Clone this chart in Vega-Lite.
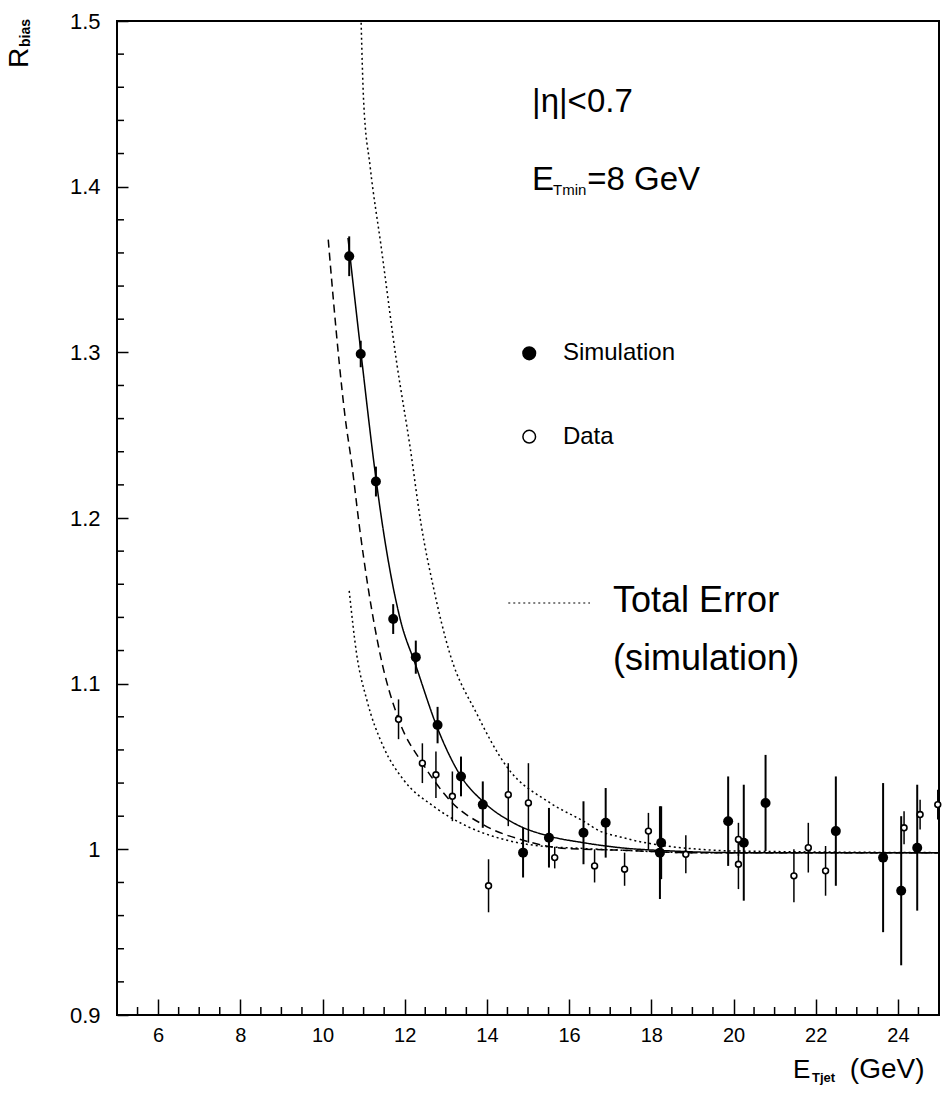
{
  "$schema": "https://vega.github.io/schema/vega-lite/v6.json",
  "width": 822,
  "height": 994,
  "autosize": {"type": "none"},
  "padding": {"left": 117, "top": 21, "right": 4, "bottom": 88},
  "background": "white",
  "config": {
    "view": {"stroke": "black", "strokeWidth": 2},
    "axis": {"domain": false, "grid": false, "tickColor": "black", "tickWidth": 1.5, "labelColor": "black", "title": null}
  },
  "datasets": {
    "sim": [
      {"x": 10.65, "y": 1.358, "e": 0.012},
      {"x": 10.93, "y": 1.299, "e": 0.008},
      {"x": 11.30, "y": 1.222, "e": 0.009},
      {"x": 11.72, "y": 1.139, "e": 0.009},
      {"x": 12.27, "y": 1.116, "e": 0.010},
      {"x": 12.80, "y": 1.075, "e": 0.011},
      {"x": 13.37, "y": 1.044, "e": 0.012},
      {"x": 13.90, "y": 1.027, "e": 0.014},
      {"x": 14.88, "y": 0.998, "e": 0.015},
      {"x": 15.51, "y": 1.007, "e": 0.018},
      {"x": 16.35, "y": 1.010, "e": 0.019},
      {"x": 16.89, "y": 1.016, "e": 0.021},
      {"x": 18.21, "y": 0.998, "e": 0.028},
      {"x": 18.24, "y": 1.004, "e": 0.022},
      {"x": 19.87, "y": 1.017, "e": 0.027},
      {"x": 20.25, "y": 1.004, "e": 0.035},
      {"x": 20.78, "y": 1.028, "e": 0.029},
      {"x": 22.49, "y": 1.011, "e": 0.033},
      {"x": 23.64, "y": 0.995, "e": 0.045},
      {"x": 24.08, "y": 0.975, "e": 0.045},
      {"x": 24.47, "y": 1.001, "e": 0.038}
    ],
    "dat": [
      {"x": 11.85, "y": 1.0785, "e": 0.012},
      {"x": 12.43, "y": 1.052, "e": 0.012},
      {"x": 12.76, "y": 1.045, "e": 0.014},
      {"x": 13.16, "y": 1.032, "e": 0.015},
      {"x": 14.04, "y": 0.978, "e": 0.016},
      {"x": 14.52, "y": 1.033, "e": 0.019},
      {"x": 15.01, "y": 1.028, "e": 0.024},
      {"x": 15.65, "y": 0.995, "e": 0.0065},
      {"x": 16.62, "y": 0.990, "e": 0.010},
      {"x": 17.35, "y": 0.988, "e": 0.010},
      {"x": 17.93, "y": 1.011, "e": 0.011},
      {"x": 18.84, "y": 0.997, "e": 0.0115},
      {"x": 20.12, "y": 1.006, "e": 0.010},
      {"x": 20.12, "y": 0.991, "e": 0.015},
      {"x": 21.47, "y": 0.984, "e": 0.016},
      {"x": 21.82, "y": 1.001, "e": 0.015},
      {"x": 22.24, "y": 0.987, "e": 0.015},
      {"x": 24.15, "y": 1.013, "e": 0.010},
      {"x": 24.54, "y": 1.021, "e": 0.009},
      {"x": 24.97, "y": 1.027, "e": 0.009}
    ],
    "curves": [
      {"c": "sim", "x": 10.62, "y": 1.369},
      {"c": "sim", "x": 10.93, "y": 1.301},
      {"c": "sim", "x": 11.30, "y": 1.224},
      {"c": "sim", "x": 11.44, "y": 1.199},
      {"c": "sim", "x": 11.89, "y": 1.139},
      {"c": "sim", "x": 12.27, "y": 1.111},
      {"c": "sim", "x": 12.80, "y": 1.073},
      {"c": "sim", "x": 13.37, "y": 1.044},
      {"c": "sim", "x": 13.90, "y": 1.029},
      {"c": "sim", "x": 14.72, "y": 1.015},
      {"c": "sim", "x": 15.51, "y": 1.008},
      {"c": "sim", "x": 16.35, "y": 1.004},
      {"c": "sim", "x": 17.24, "y": 1.001},
      {"c": "sim", "x": 18.5, "y": 0.999},
      {"c": "sim", "x": 20.0, "y": 0.998},
      {"c": "sim", "x": 25.0, "y": 0.998},
      {"c": "dat", "x": 10.14, "y": 1.368},
      {"c": "dat", "x": 10.26, "y": 1.333},
      {"c": "dat", "x": 10.41, "y": 1.293},
      {"c": "dat", "x": 10.55, "y": 1.261},
      {"c": "dat", "x": 10.71, "y": 1.233},
      {"c": "dat", "x": 10.90, "y": 1.1945},
      {"c": "dat", "x": 11.11, "y": 1.158},
      {"c": "dat", "x": 11.40, "y": 1.118},
      {"c": "dat", "x": 11.85, "y": 1.0785},
      {"c": "dat", "x": 12.43, "y": 1.052},
      {"c": "dat", "x": 12.76, "y": 1.040},
      {"c": "dat", "x": 13.16, "y": 1.028},
      {"c": "dat", "x": 13.90, "y": 1.015},
      {"c": "dat", "x": 14.88, "y": 1.0055},
      {"c": "dat", "x": 15.94, "y": 1.0005},
      {"c": "dat", "x": 17.24, "y": 0.9995},
      {"c": "dat", "x": 19.0, "y": 0.998},
      {"c": "dat", "x": 25.0, "y": 0.998},
      {"c": "hi", "x": 10.94, "y": 1.499},
      {"c": "hi", "x": 11.0, "y": 1.452},
      {"c": "hi", "x": 11.16, "y": 1.412},
      {"c": "hi", "x": 11.42, "y": 1.365},
      {"c": "hi", "x": 11.81, "y": 1.293},
      {"c": "hi", "x": 12.13, "y": 1.243},
      {"c": "hi", "x": 12.40, "y": 1.196},
      {"c": "hi", "x": 12.70, "y": 1.158},
      {"c": "hi", "x": 13.10, "y": 1.118},
      {"c": "hi", "x": 13.75, "y": 1.082},
      {"c": "hi", "x": 14.48, "y": 1.050},
      {"c": "hi", "x": 15.54, "y": 1.028},
      {"c": "hi", "x": 16.35, "y": 1.017},
      {"c": "hi", "x": 16.75, "y": 1.011},
      {"c": "hi", "x": 17.24, "y": 1.0075},
      {"c": "hi", "x": 17.56, "y": 1.0055},
      {"c": "hi", "x": 18.37, "y": 1.002},
      {"c": "hi", "x": 19.18, "y": 1.000},
      {"c": "hi", "x": 20.0, "y": 0.999},
      {"c": "hi", "x": 25.0, "y": 0.998},
      {"c": "lo", "x": 10.65, "y": 1.156},
      {"c": "lo", "x": 10.83, "y": 1.118},
      {"c": "lo", "x": 11.08, "y": 1.090},
      {"c": "lo", "x": 11.48, "y": 1.062},
      {"c": "lo", "x": 11.97, "y": 1.042},
      {"c": "lo", "x": 12.70, "y": 1.026},
      {"c": "lo", "x": 13.51, "y": 1.014},
      {"c": "lo", "x": 14.32, "y": 1.0066},
      {"c": "lo", "x": 15.13, "y": 1.0025},
      {"c": "lo", "x": 16.35, "y": 1.0005},
      {"c": "lo", "x": 17.24, "y": 0.9995},
      {"c": "lo", "x": 19.0, "y": 0.998},
      {"c": "lo", "x": 25.0, "y": 0.998}
    ],
    "xminor": [
      {"v": 5.5}, {"v": 6.5}, {"v": 7}, {"v": 7.5}, {"v": 8.5}, {"v": 9}, {"v": 9.5}, {"v": 10.5}, {"v": 11}, {"v": 11.5},
      {"v": 12.5}, {"v": 13}, {"v": 13.5}, {"v": 14.5}, {"v": 15}, {"v": 15.5}, {"v": 16.5}, {"v": 17}, {"v": 17.5},
      {"v": 18.5}, {"v": 19}, {"v": 19.5}, {"v": 20.5}, {"v": 21}, {"v": 21.5}, {"v": 22.5}, {"v": 23}, {"v": 23.5}, {"v": 24.5}
    ],
    "yminor": [
      {"v": 0.92}, {"v": 0.94}, {"v": 0.96}, {"v": 0.98}, {"v": 1.02}, {"v": 1.04}, {"v": 1.06}, {"v": 1.08},
      {"v": 1.12}, {"v": 1.14}, {"v": 1.16}, {"v": 1.18}, {"v": 1.22}, {"v": 1.24}, {"v": 1.26}, {"v": 1.28},
      {"v": 1.32}, {"v": 1.34}, {"v": 1.36}, {"v": 1.38}, {"v": 1.42}, {"v": 1.44}, {"v": 1.46}, {"v": 1.48}
    ],
    "legpts": [
      {"x": 15.03, "y": 1.2994, "k": "Simulation"},
      {"x": 15.03, "y": 1.2491, "k": "Data"}
    ],
    "legline": [
      {"x": 14.52, "y": 1.1487},
      {"x": 16.51, "y": 1.1487}
    ],
    "bigtext": [
      {"x": 15.10, "y": 1.4451, "t": "|η|<0.7"},
      {"x": 15.10, "y": 1.3980, "t": "E"},
      {"x": 16.44, "y": 1.3980, "t": "=8 GeV"}
    ],
    "errtext": [
      {"x": 17.07, "y": 1.1433, "t": "Total Error"},
      {"x": 17.07, "y": 1.1082, "t": "(simulation)"}
    ],
    "legtext": [
      {"x": 15.85, "y": 1.2994, "t": "Simulation"},
      {"x": 15.85, "y": 1.2491, "t": "Data"}
    ],
    "subtext": [
      {"x": 15.61, "y": 1.3950, "t": "Tmin"}
    ]
  },
  "layer": [
    {
      "data": {"name": "xminor"},
      "mark": {"type": "rule", "color": "black", "strokeWidth": 1.5},
      "encoding": {
        "x": {"field": "v", "type": "quantitative", "title": null, "scale": {"domain": [5, 25], "nice": false, "zero": false},
              "axis": {"orient": "bottom", "title": null, "values": [6, 8, 10, 12, 14, 16, 18, 20, 22, 24], "tickSize": -16, "labelPadding": 26,
                       "labelFont": "Liberation Sans", "labelFontSize": 20, "labelFlush": false}},
        "y": {"datum": 0.9, "type": "quantitative", "title": null, "scale": {"domain": [0.9, 1.5], "nice": false, "zero": false},
              "axis": {"orient": "left", "title": null, "values": [0.9, 1.0, 1.1, 1.2, 1.3, 1.4, 1.5], "tickSize": -11, "labelPadding": 28,
                       "labelFont": "Liberation Sans", "labelFontSize": 22, "labelFlush": false,
                       "labelExpr": "format(datum.value, '.1~f')"}},
        "y2": {"datum": 0.90483}
      }
    },
    {
      "data": {"name": "yminor"},
      "mark": {"type": "rule", "color": "black", "strokeWidth": 1.5},
      "encoding": {
        "y": {"field": "v", "type": "quantitative", "title": null},
        "x": {"datum": 5, "type": "quantitative", "title": null},
        "x2": {"datum": 5.17}
      }
    },
    {
      "data": {"name": "curves"},
      "mark": {"type": "line", "color": "black", "strokeWidth": 1.5, "interpolate": "monotone"},
      "encoding": {
        "x": {"field": "x", "type": "quantitative"},
        "y": {"field": "y", "type": "quantitative"},
        "detail": {"field": "c"},
        "strokeDash": {"field": "c", "type": "nominal", "legend": null,
                       "scale": {"domain": ["sim", "dat", "hi", "lo"], "range": [[1, 0], [8, 5], [2, 3], [2, 3]]}}
      }
    },
    {
      "data": {"name": "sim"},
      "mark": {"type": "errorbar", "color": "black", "thickness": 2},
      "encoding": {
        "x": {"field": "x", "type": "quantitative"},
        "y": {"field": "y", "type": "quantitative"},
        "yError": {"field": "e"}
      }
    },
    {
      "data": {"name": "dat"},
      "mark": {"type": "errorbar", "color": "black", "thickness": 1.5},
      "encoding": {
        "x": {"field": "x", "type": "quantitative"},
        "y": {"field": "y", "type": "quantitative"},
        "yError": {"field": "e"}
      }
    },
    {
      "data": {"name": "sim"},
      "mark": {"type": "point", "shape": "circle", "filled": true, "color": "black", "size": 100, "opacity": 1},
      "encoding": {
        "x": {"field": "x", "type": "quantitative"},
        "y": {"field": "y", "type": "quantitative"}
      }
    },
    {
      "data": {"name": "dat"},
      "mark": {"type": "point", "shape": "circle", "fill": "white", "stroke": "black", "strokeWidth": 1.6, "size": 34, "opacity": 1, "fillOpacity": 1},
      "encoding": {
        "x": {"field": "x", "type": "quantitative"},
        "y": {"field": "y", "type": "quantitative"}
      }
    },
    {
      "data": {"name": "legpts"},
      "mark": {"type": "point", "shape": "circle", "stroke": "black", "strokeWidth": 1.5, "size": 160, "opacity": 1, "fillOpacity": 1},
      "encoding": {
        "x": {"field": "x", "type": "quantitative"},
        "y": {"field": "y", "type": "quantitative"},
        "fill": {"field": "k", "type": "nominal", "legend": null,
                 "scale": {"domain": ["Simulation", "Data"], "range": ["black", "white"]}}
      }
    },
    {
      "data": {"name": "legline"},
      "mark": {"type": "line", "color": "black", "strokeWidth": 1.2, "strokeDash": [2, 3]},
      "encoding": {
        "x": {"field": "x", "type": "quantitative"},
        "y": {"field": "y", "type": "quantitative"}
      }
    },
    {
      "data": {"name": "legtext"},
      "mark": {"type": "text", "align": "left", "baseline": "middle", "font": "Liberation Sans", "fontSize": 24, "color": "black"},
      "encoding": {
        "x": {"field": "x", "type": "quantitative"},
        "y": {"field": "y", "type": "quantitative"},
        "text": {"field": "t"}
      }
    },
    {
      "data": {"name": "bigtext"},
      "mark": {"type": "text", "align": "left", "baseline": "alphabetic", "font": "Liberation Sans", "fontSize": 33, "color": "black"},
      "encoding": {
        "x": {"field": "x", "type": "quantitative"},
        "y": {"field": "y", "type": "quantitative"},
        "text": {"field": "t"}
      }
    },
    {
      "data": {"name": "errtext"},
      "mark": {"type": "text", "align": "left", "baseline": "alphabetic", "font": "Liberation Sans", "fontSize": 36, "color": "black"},
      "encoding": {
        "x": {"field": "x", "type": "quantitative"},
        "y": {"field": "y", "type": "quantitative"},
        "text": {"field": "t"}
      }
    },
    {
      "data": {"name": "subtext"},
      "mark": {"type": "text", "align": "left", "baseline": "alphabetic", "font": "Liberation Sans", "fontSize": 15, "color": "black"},
      "encoding": {
        "x": {"field": "x", "type": "quantitative"},
        "y": {"field": "y", "type": "quantitative"},
        "text": {"field": "t"}
      }
    },
    {
      "data": {"values": [{"x": 21.45, "y": 0.8620, "t": "E", "s": 26}, {"x": 22.83, "y": 0.8620, "t": "(GeV)", "s": 28}]},
      "mark": {"type": "text", "align": "left", "baseline": "alphabetic", "font": "Liberation Sans", "color": "black"},
      "encoding": {
        "x": {"field": "x", "type": "quantitative"},
        "y": {"field": "y", "type": "quantitative"},
        "text": {"field": "t"},
        "size": {"field": "s", "type": "quantitative", "scale": null, "legend": null}
      }
    },
    {
      "data": {"values": [{"x": 21.91, "y": 0.8596, "t": "Tjet"}]},
      "mark": {"type": "text", "align": "left", "baseline": "alphabetic", "font": "Liberation Sans", "fontSize": 13, "fontWeight": "bold", "color": "black"},
      "encoding": {
        "x": {"field": "x", "type": "quantitative"},
        "y": {"field": "y", "type": "quantitative"},
        "text": {"field": "t"}
      }
    },
    {
      "data": {"values": [{"x": 2.835, "y": 1.4716, "t": "R"}]},
      "mark": {"type": "text", "align": "left", "baseline": "alphabetic", "angle": 270, "font": "Liberation Sans", "fontSize": 28, "color": "black"},
      "encoding": {
        "x": {"field": "x", "type": "quantitative"},
        "y": {"field": "y", "type": "quantitative"},
        "text": {"field": "t"}
      }
    },
    {
      "data": {"values": [{"x": 2.88, "y": 1.4843, "t": "bias"}]},
      "mark": {"type": "text", "align": "left", "baseline": "alphabetic", "angle": 270, "font": "Liberation Sans", "fontSize": 14, "fontWeight": "bold", "color": "black"},
      "encoding": {
        "x": {"field": "x", "type": "quantitative"},
        "y": {"field": "y", "type": "quantitative"},
        "text": {"field": "t"}
      }
    }
  ]
}
